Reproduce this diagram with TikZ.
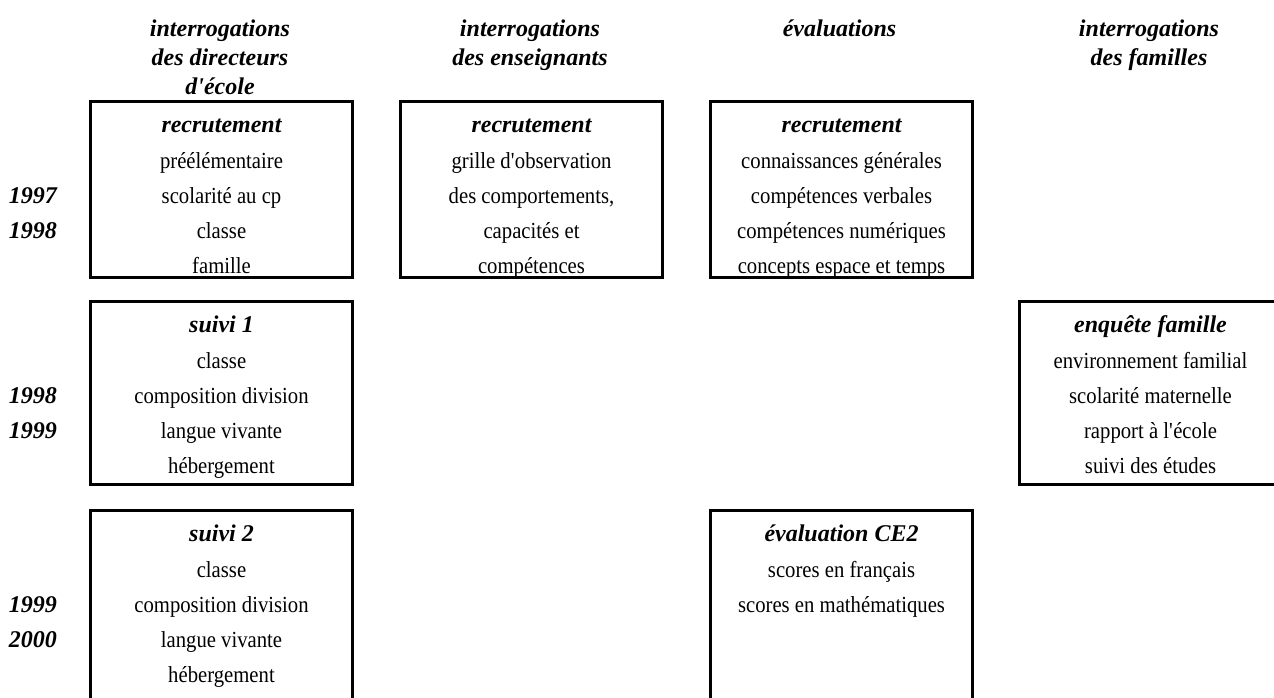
\documentclass[tikz,border=0pt]{standalone}
\usepackage{fontspec}
\setmainfont{Liberation Serif}
\newfontfamily\corpsfont{Liberation Serif}[FakeStretch=0.9]
\usepackage{tikz}

\begin{document}
\begin{tikzpicture}[x=0.5pt,y=-0.5pt,
    cadre/.style={draw=black, line width=1.5pt, anchor=north west,
        minimum width=131pt, inner sep=0pt},
    titre/.style={anchor=base, inner sep=0pt,
        font=\fontsize{12}{14}\selectfont\bfseries\itshape},
    ligne/.style={anchor=base, inner sep=0pt,
        font=\corpsfont\fontsize{11.5}{13}\selectfont}]
    \useasboundingbox (0,0) rectangle (1274,697);
    \clip (0,0) rectangle (1274,697);
    %headers
    \node[titre] (hDir1) at (220,36) {interrogations};
    \node[titre] (hDir2) at (220,65) {des directeurs};
    \node[titre] (hDir3) at (220,94) {d\textquotesingle école};
    \node[titre] (hEns1) at (530,36) {interrogations};
    \node[titre] (hEns2) at (530,65) {des enseignants};
    \node[titre] (hEva1) at (839.5,36) {évaluations};
    \node[titre] (hFam1) at (1149,36) {interrogations};
    \node[titre] (hFam2) at (1149,65) {des familles};
    %years
    \foreach \y/\an in {203/1997,238/1998,403/1998,438/1999,612/1999,647/2000}
        \node[titre] (an\y) at (33,\y) {\an};
    %row 1: recrutement
    \node[cadre, minimum height=88pt] (dirRec) at (89,100) {};
    \node[titre] (dirRecT) at (dirRec.north |- 0,132) {recrutement};
    \foreach \y/\t in {168/préélémentaire,203/scolarité au cp,238/classe,273/famille}
        \node[ligne] (dirRec\y) at (dirRec.north |- 0,\y) {\t};
    \node[cadre, minimum height=88pt] (ensRec) at (399,100) {};
    \node[titre] (ensRecT) at (ensRec.north |- 0,132) {recrutement};
    \foreach \y/\t in {168/grille d\textquotesingle observation,203/{des comportements,},238/capacités et,273/compétences}
        \node[ligne] (ensRec\y) at (ensRec.north |- 0,\y) {\t};
    \node[cadre, minimum height=88pt] (evaRec) at (709,100) {};
    \node[titre] (evaRecT) at (evaRec.north |- 0,132) {recrutement};
    \foreach \y/\t in {168/connaissances générales,203/compétences verbales,
            238/compétences numériques,273/concepts espace et temps}
        \node[ligne] (evaRec\y) at (evaRec.north |- 0,\y) {\t};
    %row 2: suivi 1, enquete famille
    \node[cadre, minimum height=91.5pt] (dirSuiviA) at (89,300) {};
    \node[titre] (dirSuiviAT) at (dirSuiviA.north |- 0,332) {suivi 1};
    \foreach \y/\t in {368/classe,403/composition division,438/langue vivante,473/hébergement}
        \node[ligne] (dirSuiviA\y) at (dirSuiviA.north |- 0,\y) {\t};
    \node[cadre, minimum height=91.5pt] (famEnq) at (1018,300) {};
    \node[titre] (famEnqT) at (famEnq.north |- 0,332) {enquête famille};
    \foreach \y/\t in {368/environnement familial,403/scolarité maternelle,
            438/rapport à l\textquotesingle école,473/suivi des études}
        \node[ligne] (famEnq\y) at (famEnq.north |- 0,\y) {\t};
    %row 3: suivi 2, evaluation CE2
    \node[cadre, minimum height=100pt] (dirSuiviB) at (89,509) {};
    \node[titre] (dirSuiviBT) at (dirSuiviB.north |- 0,541) {suivi 2};
    \foreach \y/\t in {577/classe,612/composition division,647/langue vivante,682/hébergement}
        \node[ligne] (dirSuiviB\y) at (dirSuiviB.north |- 0,\y) {\t};
    \node[cadre, minimum height=100pt] (evaCE) at (709,509) {};
    \node[titre] (evaCET) at (evaCE.north |- 0,541) {évaluation CE2};
    \foreach \y/\t in {577/scores en français,612/scores en mathématiques}
        \node[ligne] (evaCE\y) at (evaCE.north |- 0,\y) {\t};
\end{tikzpicture}
\end{document}
